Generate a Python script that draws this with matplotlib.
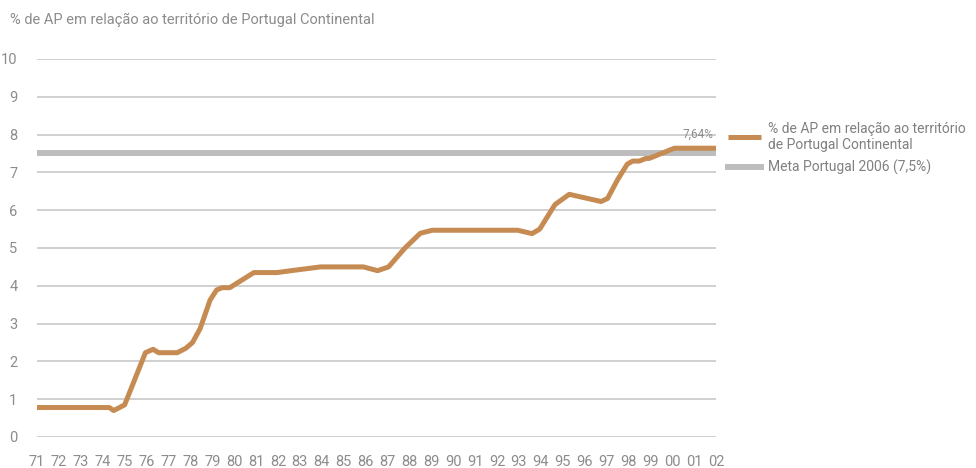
import matplotlib.pyplot as plt
from matplotlib import font_manager

# data (fractional years)
years = [1971, 1974.3, 1974.5, 1975.0, 1975.95, 1976.3, 1976.55, 1977.4, 1977.8, 1978.1,
         1978.45, 1978.9, 1979.2, 1979.45, 1979.8, 1980.9, 1981.95, 1983.0, 1983.95, 1985.9,
         1986.55, 1987.05, 1987.8, 1988.5, 1989.05, 1992.95, 1993.6, 1993.95, 1994.65, 1995.3,
         1996.75, 1997.05, 1997.5, 1997.95, 1998.2, 1998.5, 1998.8, 1998.95, 2000.1, 2002]
pct_ap = [0.78, 0.78, 0.70, 0.85, 2.23, 2.32, 2.23, 2.23, 2.35, 2.5,
          2.87, 3.62, 3.89, 3.95, 3.95, 4.35, 4.35, 4.43, 4.5, 4.5,
          4.40, 4.5, 5.0, 5.39, 5.47, 5.47, 5.38, 5.5, 6.15, 6.42,
          6.23, 6.31, 6.8, 7.22, 7.30, 7.30, 7.37, 7.37, 7.64, 7.64]
meta = 7.5
tick_years = list(range(1971, 2003))
tick_labels = ['%02d' % (y % 100) for y in tick_years]

names = {f.name for f in font_manager.fontManager.ttflist}
fam = ['Liberation Sans Narrow', 'DejaVu Sans'] if 'Liberation Sans Narrow' in names else ['Roboto', 'DejaVu Sans']
plt.rcParams['font.family'] = fam

txt = '#8c8c8c'
orange = '#c68b52'
grey = '#bdbdbd'

fig = plt.figure(figsize=(9.76, 4.68), dpi=100)
ax = fig.add_axes([37 / 976, 1 - 437 / 468, (716 - 37) / 976, (437 - 59) / 468])

ax.axhline(meta, color=grey, lw=4.3, zorder=2, label='Meta Portugal 2006 (7,5%)')
ax.plot(years, pct_ap, color=orange, lw=3.6, solid_joinstyle='round', solid_capstyle='butt',
        zorder=3, label='% de AP em relação ao território\nde Portugal Continental')

ax.set_xlim(1971, 2002)
ax.set_ylim(0, 10)
ax.set_yticks(range(0, 11))
ax.set_xticks(tick_years)
ax.set_xticklabels(tick_labels)
ax.grid(axis='y', color='#c8c8c8', lw=1.2, zorder=1)
ax.set_axisbelow(True)
for s in ax.spines.values():
    s.set_visible(False)
ax.tick_params(axis='both', length=0, colors=txt, labelsize=10.5)
ax.tick_params(axis='y', pad=14)
ax.tick_params(axis='x', pad=13)

ax.text(2001.9, 7.85, '7,64%', color=txt, fontsize=8.5, ha='right', va='bottom')

fig.text(10 / 976, 1 - 20 / 468, '% de AP em relação ao território de Portugal Continental',
         color=txt, fontsize=10.5, ha='left', va='center')

h, l = ax.get_legend_handles_labels()
leg = fig.legend(h[::-1], l[::-1], loc='upper left', bbox_to_anchor=(722 / 976, 1 - 116 / 468),
                 frameon=False, fontsize=10, handlelength=2.4, handletextpad=0.5,
                 labelspacing=0.55, borderaxespad=0)
for t in leg.get_texts():
    t.set_color('#808080')

fig.savefig('out.png', dpi=100)
